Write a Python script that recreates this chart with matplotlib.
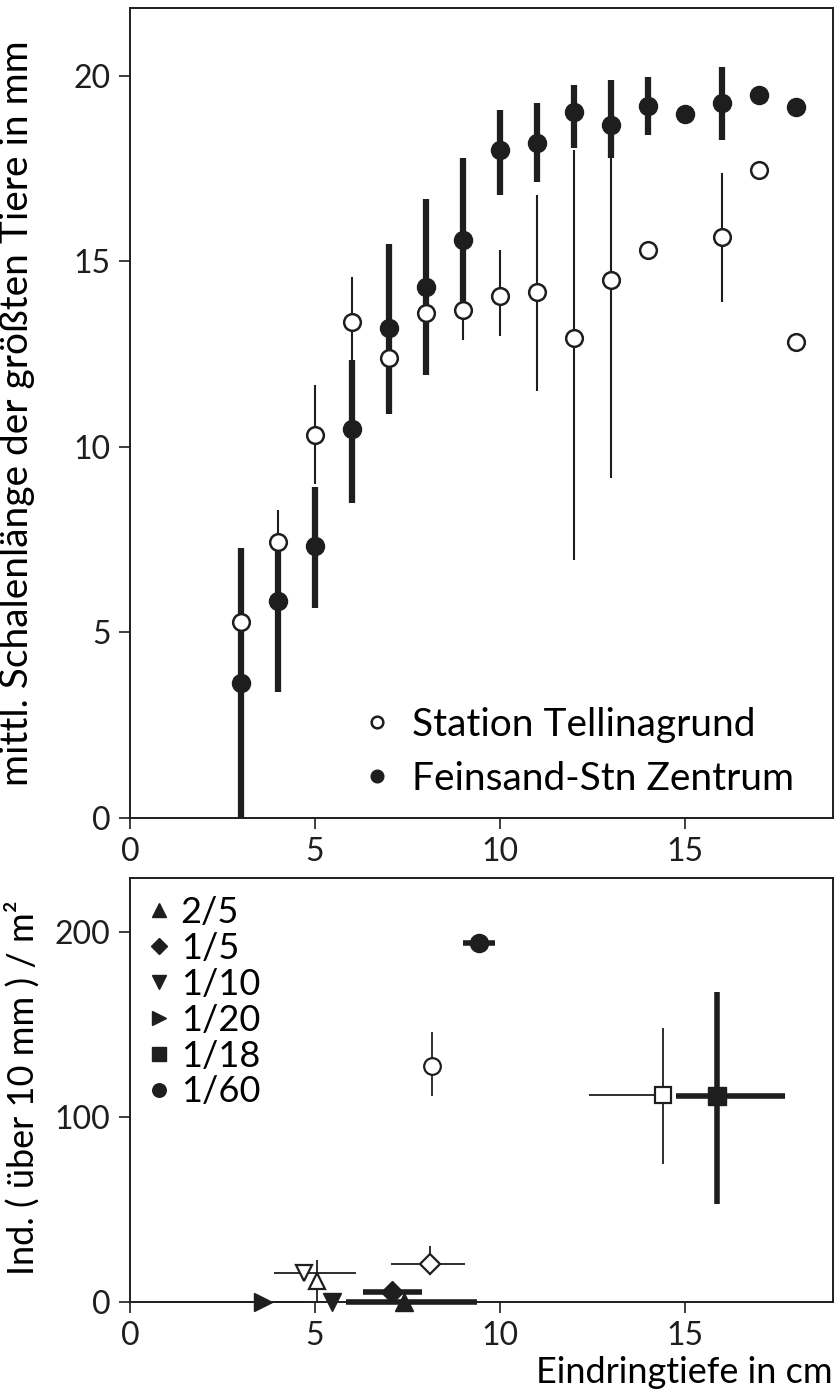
import numpy as np
import matplotlib.pyplot as plt

plt.rcParams['font.family'] = ['Lato', 'DejaVu Sans']

# --- upper panel: mean shell length of the largest animals vs. depth ---
depth_open = [3, 4, 5, 6, 7, 8, 9, 10, 11, 12, 13, 14, 16, 17, 18]
len_open = [5.28, 7.44, 10.32, 13.37, 12.4, 13.6, 13.7, 14.07, 14.18, 12.94, 14.5, 15.3, 15.66, 17.47, 12.83]
lo_open = [5.28, 7.44, 9.0, 12.3, 12.4, 13.6, 12.88, 13.0, 11.5, 6.95, 9.16, 15.3, 13.9, 17.47, 12.83]
hi_open = [5.28, 8.3, 11.67, 14.58, 12.4, 13.6, 13.7, 15.3, 16.8, 18.0, 17.8, 15.3, 17.38, 17.47, 12.83]

depth_fill = [3, 4, 5, 6, 7, 8, 9, 10, 11, 12, 13, 14, 15, 16, 17, 18]
len_fill = [3.64, 5.85, 7.33, 10.48, 13.2, 14.31, 15.58, 18.0, 18.19, 19.03, 18.68, 19.2, 18.98, 19.27, 19.49, 19.17]
lo_fill = [0, 3.4, 5.66, 8.49, 10.9, 11.94, 13.6, 16.8, 17.14, 18.06, 17.8, 18.4, 18.98, 18.27, 19.49, 19.17]
hi_fill = [7.28, 7.3, 8.92, 12.34, 15.47, 16.68, 17.79, 19.08, 19.27, 19.76, 19.9, 19.97, 18.98, 20.25, 19.49, 19.17]

# --- lower panel: density (ind. > 10 mm / m2) vs. depth, per sample size ---
groups = ['2/5', '1/5', '1/10', '1/20', '1/18', '1/60']
markers = ['^', 'D', 'v', '>', 's', 'o']

fx = [7.41, 7.08, 5.46, 3.6, 15.86, 9.43]
fy = [0, 5.4, 0, 0, 111.4, 194]
fx_lo = [5.85, 6.3, 5.46, 0.85, 14.75, 9.0]
fx_hi = [9.38, 7.9, 5.46, 4.75, 17.7, 9.86]
fy_lo = [0, 5.4, 0, 0, 52.7, 194]
fy_hi = [0, 5.4, 0, 0, 167.4, 194]

ox = [5.05, 8.11, 4.7, 14.4, 8.16]
oy = [11.4, 20.7, 15.7, 112, 127.7]
o_mark = ['^', 'D', 'v', 's', 'o']
ox_lo = [5.05, 7.05, 3.9, 12.4, 8.16]
ox_hi = [5.05, 9.05, 6.1, 14.4, 8.16]
oy_lo = [0, 14.7, 15.7, 74.5, 111.4]
oy_hi = [22.8, 30.0, 15.7, 147.8, 145.6]

ink = '#1e1e1e'

fig = plt.figure(figsize=(8.35, 13.98), dpi=100)
ax1 = fig.add_axes([0.1557, 0.4149, 0.8419, 0.5794])
ax2 = fig.add_axes([0.1557, 0.0687, 0.8419, 0.3033])


def err(v, lo, hi):
    v, lo, hi = np.array(v), np.array(lo), np.array(hi)
    return [v - lo, hi - v]


# upper panel
ax1.errorbar(depth_fill, len_fill, yerr=err(len_fill, lo_fill, hi_fill), fmt='none',
             ecolor=ink, elinewidth=4.5, capsize=0, zorder=2)
ax1.errorbar(depth_open, len_open, yerr=err(len_open, lo_open, hi_open), fmt='none',
             ecolor=ink, elinewidth=1.5, capsize=0, zorder=1)
ax1.plot(depth_fill, len_fill, 'o', ms=13, color=ink, zorder=3, label='Feinsand-Stn Zentrum')
ax1.plot(depth_open, len_open, 'o', ms=12, mfc='white', mec=ink, mew=1.8, zorder=4,
         label='Station Tellinagrund')

ax1.set_xlim(0, 19)
ax1.set_ylim(0, 21.83)
ax1.set_xticks([0, 5, 10, 15])
ax1.set_yticks([0, 5, 10, 15, 20])
ax1.set_ylabel('mittl. Schalenlänge der größten Tiere in mm', fontsize=28)
ax1.yaxis.set_label_coords(-0.135, 0.5)

h, l = ax1.get_legend_handles_labels()
ax1.legend(h[::-1], l[::-1], loc='lower right', bbox_to_anchor=(0.975, 0.0), frameon=False,
           fontsize=28, markerscale=0.7, handlelength=0.8, handletextpad=0.5,
           labelspacing=0.45, borderaxespad=0.15)

# lower panel
for i in range(len(groups)):
    ax2.errorbar([fx[i]], [fy[i]],
                 xerr=[[fx[i] - fx_lo[i]], [fx_hi[i] - fx[i]]],
                 yerr=[[fy[i] - fy_lo[i]], [fy_hi[i] - fy[i]]],
                 fmt='none', ecolor=ink, elinewidth=1.3 if i == 3 else 4.0, capsize=0,
                 zorder=2, clip_on=False)
    ax2.plot([fx[i]], [fy[i]], markers[i], ms=13 if markers[i] != 'D' else 11,
             color=ink, zorder=4, label=groups[i], clip_on=False)

for i in range(len(ox)):
    ax2.errorbar([ox[i]], [oy[i]],
                 xerr=[[ox[i] - ox_lo[i]], [ox_hi[i] - ox[i]]],
                 yerr=[[oy[i] - oy_lo[i]], [oy_hi[i] - oy[i]]],
                 fmt='none', ecolor=ink, elinewidth=1.3, capsize=0, zorder=1)
    ax2.plot([ox[i]], [oy[i]], o_mark[i], ms=12 if o_mark[i] != 'D' else 10,
             mfc='white', mec=ink, mew=1.6, zorder=3, clip_on=False)

ax2.set_xlim(0, 19)
ax2.set_ylim(0, 229)
ax2.set_xticks([0, 5, 10, 15])
ax2.set_yticks([0, 100, 200])
ax2.set_ylabel('Ind. ( über 10 mm ) / m²', fontsize=26)
ax2.yaxis.set_label_coords(-0.128, 0.505)
ax2.set_xlabel('Eindringtiefe in cm', fontsize=26, loc='right', labelpad=3)

ax2.legend(loc='upper left', frameon=False, fontsize=26, markerscale=0.75,
           handlelength=0.6, handletextpad=0.3, labelspacing=0.08, borderaxespad=0.3,
           borderpad=0.2)

for ax in (ax1, ax2):
    ax.tick_params(direction='out', length=8, width=1.2, labelsize=23, pad=6, colors=ink)
    for s in ax.spines.values():
        s.set_linewidth(1.4)
        s.set_color(ink)

fig.savefig('out.png', dpi=100)
